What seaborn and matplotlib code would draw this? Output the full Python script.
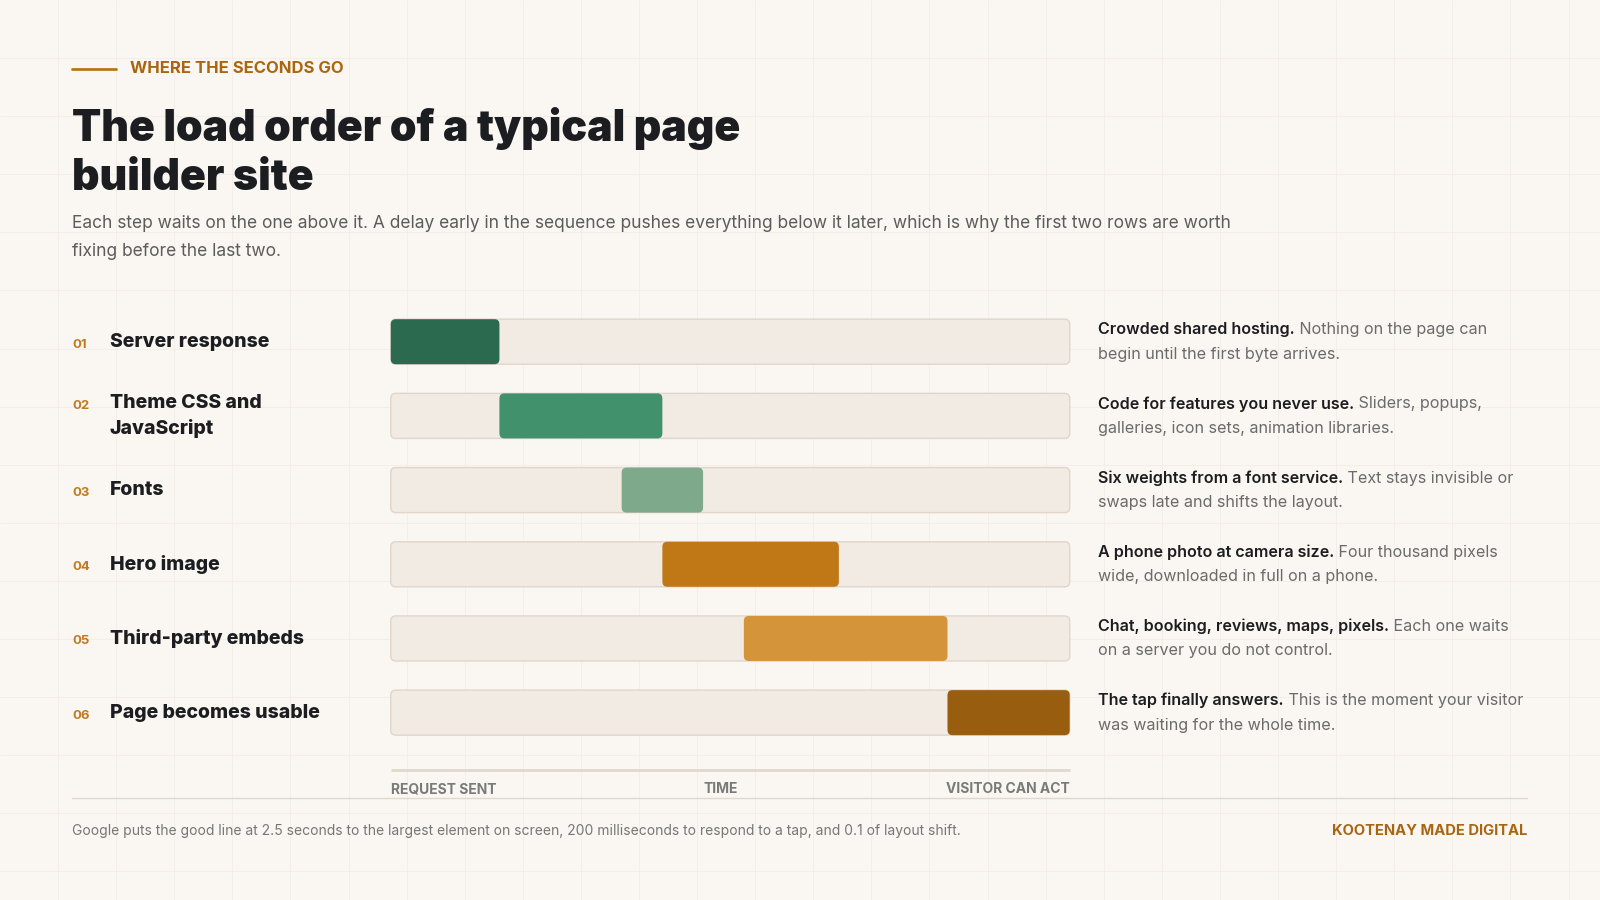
import matplotlib
matplotlib.use("Agg")
import matplotlib.pyplot as plt
import matplotlib.transforms as mtransforms
from matplotlib.patches import FancyBboxPatch
import numpy as np
import pandas as pd
import seaborn as sns

# chart data
step_nums = ["01", "02", "03", "04", "05", "06"]
steps = ["Server response", "Theme CSS and\nJavaScript", "Fonts", "Hero image",
         "Third-party embeds", "Page becomes usable"]
starts = [0, 16, 34, 40, 52, 82]
ends = [16, 40, 46, 66, 82, 100]
bar_colors = ["#2c6a4f", "#40916c", "#7ea98b", "#c07816", "#d4943a", "#995d10"]
note_leads = ["Crowded shared hosting.", "Code for features you never use.",
              "Six weights from a font service.", "A phone photo at camera size.",
              "Chat, booking, reviews, maps, pixels.", "The tap finally answers."]
note_rests = [" Nothing on the page can\nbegin until the first byte arrives.",
              " Sliders, popups,\ngalleries, icon sets, animation libraries.",
              " Text stays invisible or\nswaps late and shifts the layout.",
              " Four thousand pixels\nwide, downloaded in full on a phone.",
              " Each one waits\non a server you do not control.",
              " This is the moment your visitor\nwas waiting for the whole time."]
axis_labels = ["REQUEST SENT", "TIME", "VISITOR CAN ACT"]

kicker = "WHERE THE SECONDS GO"
title_lines = ["The load order of a typical page", "builder site"]
subtitle_lines = ["Each step waits on the one above it. A delay early in the sequence pushes everything "
                  "below it later, which is why the first two rows are worth",
                  "fixing before the last two."]
footnote = ("Google puts the good line at 2.5 seconds to the largest element on screen, "
            "200 milliseconds to respond to a tap, and 0.1 of layout shift.")
brand = "KOOTENAY MADE DIGITAL"

BG = "#faf6f1"
TRACK = "#f2ebe4"
TRACK_EDGE = "#e0d6cb"
INK = "#1c1d21"
GREY = "#6b6b6b"
BROWN = "#a96612"
NUM = "#c27a22"

sns.set_style("white")
plt.rcParams["font.family"] = ["Inter", "DejaVu Sans"]

W, H = 1600, 900
fig = plt.figure(figsize=(16, 9), dpi=100)
fig.patch.set_facecolor(BG)

# pixel transform: x from left, y from top
px = mtransforms.Affine2D().scale(1 / W, -1 / H).translate(0, 1) + fig.transFigure

# faint background grid
bg = fig.add_axes([0, 0, 1, 1], zorder=-5)
bg.set_xlim(0, W)
bg.set_ylim(H, 0)
bg.axis("off")
for g in np.arange(58, W, 58.1):
    bg.axvline(g, color="#f3eee7", lw=0.7)
for g in np.arange(58, H, 58.1):
    bg.axhline(g, color="#f3eee7", lw=0.7)

# bar area
x0, x1 = 390.8, 1069.7
row0, row_gap = 341.7, 74.19
ax_top = row0 - row_gap / 2
ax_h = row_gap * len(steps)
ax = fig.add_axes([x0 / W, 1 - (ax_top + ax_h) / H, (x1 - x0) / W, ax_h / H])
ax.patch.set_alpha(0)

df = pd.DataFrame({"step": steps, "start": starts, "end": ends})
df["dur"] = df["end"] - df["start"]
df["track"] = 100

bar_h = 0.607
sns.barplot(data=df, x="track", y="step", color=TRACK, saturation=1,
            width=bar_h, ax=ax)
n_track = len(ax.patches)
sns.barplot(data=df, x="dur", y="step", hue="step", palette=bar_colors, saturation=1,
            width=bar_h, legend=False, dodge=False, ax=ax)

ax.set_xlim(0, 100)
ax.set_ylim(len(steps) - 0.5, -0.5)
ax.axis("off")

# rounded corners: radius in px converted to data units
ux = 100 / (x1 - x0)
uy = 1 / row_gap
rad = 5 * ux
aspect = uy / ux

rects = list(ax.patches)
for i, p in enumerate(rects):
    bx, by, bw, bh = p.get_x(), p.get_y(), p.get_width(), p.get_height()
    row = int(round(by + bh / 2))
    if i < n_track:
        fc, ec, lw, z = TRACK, TRACK_EDGE, 1.0, 1
    else:
        fc, ec, lw, z = p.get_facecolor(), "none", 0, 2
        bx = starts[row]
    p.remove()
    ax.add_patch(FancyBboxPatch((bx, by), bw, bh,
                                boxstyle=f"round,pad=0,rounding_size={rad}",
                                mutation_aspect=aspect, fc=fc, ec=ec, lw=lw,
                                zorder=z, clip_on=False))

# row labels (x in px, y in rows)
row_tr = mtransforms.blended_transform_factory(px, ax.transData)
for i, (num, name) in enumerate(zip(step_nums, steps)):
    n_lines = name.count("\n") + 1
    first = i - (n_lines - 1) * 13 / row_gap
    fig.text(72, first + 3 / row_gap, num, transform=row_tr, fontsize=9.5,
             fontweight="bold", color=NUM, va="center", ha="left")
    fig.text(110, i, name, transform=row_tr, fontsize=14, fontweight="heavy",
             color=INK, va="center", ha="left", linespacing=1.5)

# notes to the right
renderer = fig.canvas.get_renderer()
note_x = 1098
for i, (lead, rest) in enumerate(zip(note_leads, note_rests)):
    l1, l2 = rest.split("\n")
    y1 = i - 12 / row_gap
    y2 = i + 12.5 / row_gap
    t = fig.text(note_x, y1, lead, transform=row_tr, fontsize=11.6,
                 fontweight="semibold", color=INK, va="center", ha="left")
    w = t.get_window_extent(renderer).width
    fig.text(note_x + w, y1, l1, transform=row_tr, fontsize=11.6,
             color=GREY, va="center", ha="left")
    fig.text(note_x, y2, l2, transform=row_tr, fontsize=11.6,
             color=GREY, va="center", ha="left")

# time axis under the bars
ax_line = mtransforms.blended_transform_factory(ax.transData, px)
ax.plot([0, 100], [770, 770], transform=ax_line, color="#e0d8ce", lw=2,
        clip_on=False, solid_capstyle="butt")
ax.text(0, 789, axis_labels[0], transform=ax_line, ha="left", va="center",
        fontsize=10, fontweight="bold", color="#7a7a7a")
ax.text(48.6, 789, axis_labels[1], transform=ax_line, ha="center", va="center",
        fontsize=10, fontweight="bold", color="#7a7a7a")
ax.text(100, 789, axis_labels[2], transform=ax_line, ha="right", va="center",
        fontsize=10, fontweight="bold", color="#7a7a7a")

# header
fig.add_artist(plt.Line2D([72, 116], [68.5, 68.5], transform=px, color="#b8741a", lw=2))
fig.text(130, 68.5, kicker, transform=px, fontsize=12, fontweight="bold",
         color=BROWN, va="center", ha="left")
fig.text(72, 141, title_lines[0], transform=px, fontsize=30.8, fontweight="black",
         color=INK, va="baseline", ha="left")
fig.text(72, 190, title_lines[1], transform=px, fontsize=30.8, fontweight="black",
         color=INK, va="baseline", ha="left")
fig.text(72, 224, subtitle_lines[0], transform=px, fontsize=12.5, color="#5c5c5c",
         va="center", ha="left")
fig.text(72, 252, subtitle_lines[1], transform=px, fontsize=12.5, color="#5c5c5c",
         va="center", ha="left")

# footer
fig.add_artist(plt.Line2D([72, 1527], [798, 798], transform=px, color="#e0d8ce", lw=1))
fig.text(72, 831, footnote, transform=px, fontsize=10, color="#777777",
         va="center", ha="left")
fig.text(1527, 831, brand, transform=px, fontsize=10.6, fontweight="bold",
         color=BROWN, va="center", ha="right")

fig.savefig("out.png", dpi=100, facecolor=BG)
